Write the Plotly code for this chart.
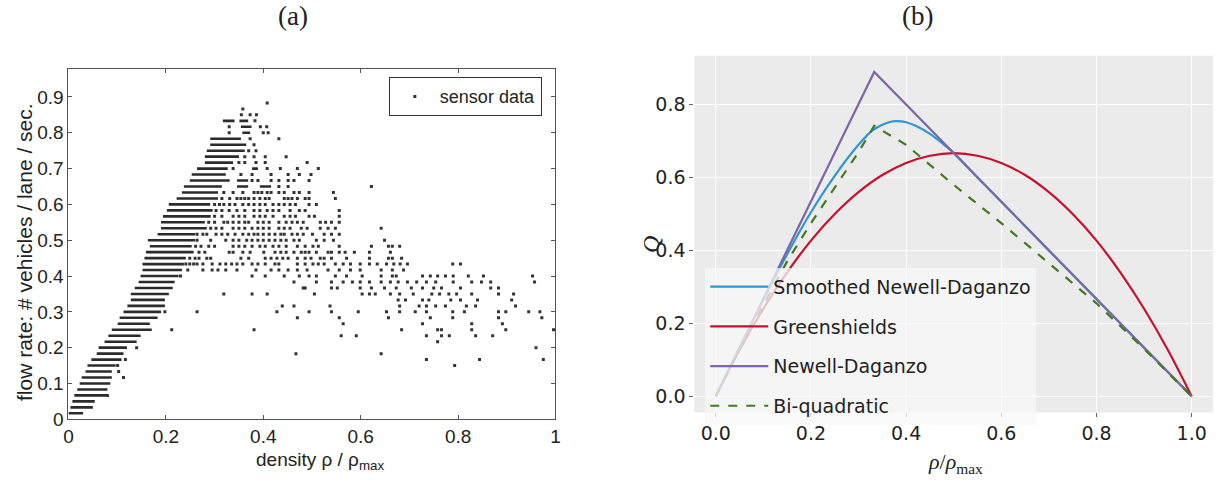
import plotly.graph_objects as go

# ---------------- Panel (a): sensor data ----------------
# flow rate is quantized: row k  ->  flow = k / 60 vehicles / lane / sec
FLOW_STEP = 1 / 60

# dense stretches of each row: (row k, density from, density to)
dense_rows = [
    (1, 0.000, 0.030), (2, 0.004, 0.050), (3, 0.008, 0.054), (4, 0.012, 0.078),
    (5, 0.018, 0.080), (6, 0.023, 0.086), (7, 0.027, 0.089), (8, 0.035, 0.089),
    (9, 0.039, 0.097), (10, 0.047, 0.109), (11, 0.058, 0.113), (12, 0.062, 0.120),
    (13, 0.074, 0.140), (14, 0.082, 0.148), (15, 0.089, 0.171), (16, 0.101, 0.167),
    (17, 0.105, 0.183), (18, 0.113, 0.190), (19, 0.121, 0.198), (20, 0.128, 0.198),
    (21, 0.128, 0.206), (22, 0.136, 0.214), (23, 0.144, 0.218), (24, 0.148, 0.226),
    (25, 0.152, 0.233), (26, 0.152, 0.237), (27, 0.156, 0.241), (28, 0.159, 0.257),
    (29, 0.167, 0.253), (30, 0.163, 0.260), (31, 0.183, 0.260), (32, 0.190, 0.284),
    (33, 0.190, 0.280), (34, 0.194, 0.292), (35, 0.202, 0.296), (36, 0.206, 0.291),
    (37, 0.222, 0.307), (38, 0.233, 0.307), (39, 0.237, 0.315), (39, 0.346, 0.369),
    (39, 0.393, 0.416), (40, 0.249, 0.331), (40, 0.346, 0.369), (41, 0.253, 0.323),
    (42, 0.264, 0.327), (42, 0.377, 0.389), (43, 0.280, 0.338), (44, 0.280, 0.350),
    (45, 0.284, 0.362), (46, 0.291, 0.365), (47, 0.291, 0.354), (48, 0.357, 0.373),
    (49, 0.354, 0.376), (50, 0.317, 0.341), (50, 0.351, 0.369),
]

# isolated readings of each row: row k -> densities
sparse_rows = {
    53: [0.408],
    52: [0.358],
    51: [0.355, 0.373, 0.386],
    50: [0.383],
    49: [0.330, 0.394, 0.407],
    48: [0.330, 0.400, 0.410],
    47: [0.373, 0.432],
    46: [0.381],
    45: [0.370, 0.385],
    44: [0.362, 0.381, 0.404, 0.447],
    43: [0.350, 0.362, 0.385, 0.404, 0.490],
    42: [0.338, 0.408, 0.435, 0.470, 0.513],
    41: [0.354, 0.377, 0.416, 0.451, 0.474, 0.498],
    40: [0.377, 0.389, 0.416, 0.432, 0.451, 0.463, 0.494],
    39: [0.432, 0.451, 0.622],
    38: [0.319, 0.338, 0.358, 0.381, 0.389, 0.397, 0.408, 0.416, 0.432, 0.443,
         0.463, 0.474, 0.494, 0.544],
    37: [0.315, 0.331, 0.346, 0.354, 0.362, 0.370, 0.381, 0.393, 0.404, 0.412,
         0.443, 0.451, 0.459, 0.470, 0.486, 0.494, 0.548],
    36: [0.300, 0.310, 0.319, 0.331, 0.342, 0.358, 0.370, 0.381, 0.393, 0.404,
         0.420, 0.432, 0.443, 0.455, 0.466, 0.494, 0.509],
    35: [0.303, 0.315, 0.330, 0.346, 0.362, 0.381, 0.393, 0.408, 0.420, 0.432,
         0.455, 0.474, 0.486, 0.556],
    34: [0.300, 0.315, 0.338, 0.350, 0.362, 0.381, 0.393, 0.404, 0.420, 0.443,
         0.455, 0.466, 0.494, 0.505, 0.556],
    33: [0.288, 0.300, 0.319, 0.327, 0.338, 0.350, 0.362, 0.370, 0.389, 0.400,
         0.412, 0.432, 0.447, 0.459, 0.470, 0.482, 0.517, 0.528, 0.540, 0.556],
    32: [0.292, 0.303, 0.315, 0.338, 0.350, 0.362, 0.377, 0.389, 0.400, 0.412,
         0.432, 0.443, 0.455, 0.478, 0.490, 0.517, 0.533, 0.548, 0.642],
    31: [0.264, 0.276, 0.284, 0.303, 0.315, 0.327, 0.342, 0.358, 0.370, 0.381,
         0.389, 0.400, 0.412, 0.424, 0.436, 0.443, 0.459, 0.470, 0.482, 0.501,
         0.525, 0.540, 0.556],
    30: [0.264, 0.292, 0.323, 0.338, 0.350, 0.366, 0.377, 0.389, 0.400, 0.412,
         0.424, 0.436, 0.447, 0.463, 0.474, 0.509, 0.525, 0.544, 0.649],
    29: [0.261, 0.272, 0.288, 0.300, 0.338, 0.350, 0.362, 0.377, 0.393, 0.404,
         0.420, 0.432, 0.447, 0.470, 0.486, 0.502, 0.513, 0.556, 0.622, 0.657,
         0.665, 0.680],
    28: [0.268, 0.280, 0.330, 0.338, 0.358, 0.373, 0.401, 0.424, 0.436, 0.447,
         0.463, 0.478, 0.486, 0.494, 0.509, 0.533, 0.540, 0.556, 0.568, 0.587,
         0.618, 0.661],
    27: [0.249, 0.260, 0.268, 0.284, 0.292, 0.354, 0.370, 0.404, 0.416, 0.428,
         0.440, 0.451, 0.470, 0.486, 0.498, 0.517, 0.525, 0.540, 0.571, 0.618,
         0.657, 0.665, 0.684],
    26: [0.241, 0.249, 0.257, 0.264, 0.276, 0.295, 0.311, 0.323, 0.335, 0.346,
         0.358, 0.377, 0.389, 0.404, 0.424, 0.432, 0.470, 0.486, 0.502, 0.513,
         0.525, 0.548, 0.564, 0.579, 0.599, 0.618, 0.634, 0.653, 0.668, 0.681,
         0.696, 0.789, 0.805],
    25: [0.245, 0.276, 0.295, 0.307, 0.323, 0.346, 0.385, 0.416, 0.432, 0.451,
         0.470, 0.490, 0.533, 0.556, 0.579, 0.599, 0.642, 0.665, 0.688],
    24: [0.230, 0.377, 0.404, 0.443, 0.474, 0.494, 0.509, 0.548, 0.571, 0.603,
         0.642, 0.665, 0.673, 0.727, 0.743, 0.758, 0.774, 0.790, 0.821, 0.852,
         0.953],
    23: [0.463, 0.509, 0.540, 0.564, 0.583, 0.599, 0.618, 0.642, 0.661, 0.677,
         0.696, 0.715, 0.735, 0.754, 0.790, 0.828, 0.848, 0.867, 0.957],
    22: [0.482, 0.486, 0.540, 0.552, 0.599, 0.622, 0.649, 0.673, 0.704, 0.727,
         0.750, 0.766, 0.805, 0.867, 0.883],
    21: [0.319, 0.377, 0.408, 0.505, 0.603, 0.618, 0.630, 0.661, 0.680, 0.708,
         0.746, 0.762, 0.781, 0.797, 0.828, 0.883, 0.914],
    20: [0.677, 0.692, 0.727, 0.740, 0.785, 0.805, 0.840, 0.910],
    19: [0.439, 0.463, 0.537, 0.680, 0.720, 0.735, 0.754, 0.774, 0.817, 0.836,
         0.918],
    18: [0.198, 0.264, 0.428, 0.494, 0.540, 0.595, 0.653, 0.680, 0.712, 0.735,
         0.789, 0.813, 0.883, 0.898, 0.945, 0.968],
    17: [0.470, 0.556, 0.657, 0.743, 0.789, 0.883, 0.972],
    16: [0.564, 0.727, 0.828, 0.891],
    15: [0.212, 0.381, 0.684, 0.758, 0.766, 0.828, 0.898, 0.996],
    14: [0.560, 0.591, 0.735, 0.766, 0.782, 0.836, 0.871],
    13: [0.758],
    12: [0.140, 0.960],
    11: [0.467, 0.642],
    10: [0.117, 0.735, 0.844, 0.975],
    9: [0.101, 0.793],
    8: [0.103],
    7: [0.113],
    4: [0.080],
}

a_xticks = [0, 0.2, 0.4, 0.6, 0.8, 1]
a_xticklabels = ["0", "0.2", "0.4", "0.6", "0.8", "1"]
a_yticks = [0, 0.1, 0.2, 0.3, 0.4, 0.5, 0.6, 0.7, 0.8, 0.9]
a_yticklabels = ["0", "0.1", "0.2", "0.3", "0.4", "0.5", "0.6", "0.7", "0.8", "0.9"]

# ---------------- Panel (b): flux functions ----------------
rho_green = [0, 0.05, 0.1, 0.15, 0.2, 0.25, 0.3, 0.35, 0.4, 0.45, 0.5,
             0.55, 0.6, 0.65, 0.7, 0.75, 0.8, 0.85, 0.9, 0.95, 1.0]
q_greenshields = [0, 0.127, 0.24, 0.34, 0.427, 0.5, 0.56, 0.607, 0.64, 0.66, 0.667,
                  0.66, 0.64, 0.607, 0.56, 0.5, 0.427, 0.34, 0.24, 0.127, 0]

rho_smooth = [0, 0.05, 0.1, 0.15, 0.2, 0.25, 0.3, 0.33, 0.35, 0.37, 0.38, 0.4,
              0.42, 0.45, 0.48, 0.5, 0.55, 0.6, 0.7, 0.8, 0.9, 1.0]
q_smooth = [0, 0.133, 0.265, 0.39, 0.505, 0.605, 0.69, 0.73, 0.745, 0.754, 0.755, 0.752,
            0.742, 0.72, 0.69, 0.668, 0.6, 0.534, 0.4, 0.267, 0.133, 0]

rho_nd = [0, 0.333, 1.0]
q_nd = [0, 0.89, 0]

rho_biq = [0, 0.05, 0.1, 0.15, 0.2, 0.25, 0.3, 0.333, 0.4, 0.5, 0.6, 0.7, 0.8, 0.9, 1.0]
q_biq = [0, 0.128, 0.25, 0.37, 0.475, 0.573, 0.67, 0.742, 0.69, 0.58, 0.475, 0.365,
         0.255, 0.13, 0]

b_xticks = [0, 0.2, 0.4, 0.6, 0.8, 1.0]
b_xticklabels = ["0.0", "0.2", "0.4", "0.6", "0.8", "1.0"]
b_yticks = [0, 0.2, 0.4, 0.6, 0.8]
b_yticklabels = ["0.0", "0.2", "0.4", "0.6", "0.8"]

# ---------------- build traces ----------------
seg_x, seg_y = [], []
for k, lo, hi in dense_rows:
    seg_x += [lo, hi, None]
    seg_y += [k * FLOW_STEP, k * FLOW_STEP, None]

pts_x, pts_y = [], []
for k, xs in sparse_rows.items():
    for x in xs:
        pts_x.append(x)
        pts_y.append(k * FLOW_STEP)

fig = go.Figure()

fig.add_trace(go.Scatter(x=seg_x, y=seg_y, mode="lines", xaxis="x", yaxis="y",
                         line=dict(color="#2b2b2b", width=2.6), showlegend=False,
                         hoverinfo="skip"))
fig.add_trace(go.Scatter(x=pts_x, y=pts_y, mode="markers", xaxis="x", yaxis="y",
                         name="sensor data", legend="legend",
                         marker=dict(symbol="square", size=3, color="#333333",
                                     line=dict(width=0))))

sans = "DejaVu Sans"
curves = [
    ("Smoothed Newell-Daganzo", rho_smooth, q_smooth, "#2E97D0", "solid", "spline"),
    ("Greenshields", rho_green, q_greenshields, "#C8102E", "solid", "spline"),
    ("Newell-Daganzo", rho_nd, q_nd, "#7A68A6", "solid", "linear"),
    ("Bi-quadratic", rho_biq, q_biq, "#467821", "dash", "linear"),
]
for i, (name, xs, ys, col, dash, shape) in enumerate(curves):
    fig.add_trace(go.Scatter(x=xs, y=ys, mode="lines", name=name, xaxis="x2", yaxis="y2",
                             legend="legend2", legendgroup=f"g{i}",
                             line=dict(color=col, width=2.2, dash=dash, shape=shape)))

helv = "Liberation Sans, Arial, sans-serif"
serif = "Liberation Serif, DejaVu Serif, serif"

fig.update_layout(
    width=1229, height=486,
    margin=dict(l=0, r=0, t=0, b=0),
    paper_bgcolor="white",
    plot_bgcolor="white",
    xaxis=dict(domain=[64 / 1229, 555 / 1229], anchor="y", range=[0, 1],
               tickvals=a_xticks, ticktext=a_xticklabels,
               ticks="inside", ticklen=4, tickcolor="#555", mirror="ticks",
               showline=True, linecolor="#555", linewidth=1, showgrid=False,
               zeroline=False, tickfont=dict(family=helv, size=19, color="#222")),
    yaxis=dict(domain=[1 - 429 / 486, 1 - 71 / 486], anchor="x", range=[0, 0.977],
               tickvals=a_yticks, ticktext=a_yticklabels,
               ticks="inside", ticklen=4, tickcolor="#555", mirror="ticks",
               showline=True, linecolor="#555", linewidth=1, showgrid=False,
               zeroline=False, tickfont=dict(family=helv, size=19, color="#222")),
    xaxis2=dict(domain=[695 / 1229, 1218 / 1229], anchor="y2", range=[-0.045, 1.045],
                tickvals=b_xticks, ticktext=b_xticklabels,
                ticks="outside", ticklen=4, tickcolor="#666",
                showline=False, showgrid=True, gridcolor="white", gridwidth=1,
                zeroline=False, tickfont=dict(family=sans, size=19, color="#222")),
    yaxis2=dict(domain=[1 - 422 / 486, 1 - 57 / 486], anchor="x2", range=[-0.0445, 0.9345],
                tickvals=b_yticks, ticktext=b_yticklabels,
                ticks="outside", ticklen=4, tickcolor="#666",
                showline=False, showgrid=True, gridcolor="white", gridwidth=1,
                zeroline=False, tickfont=dict(family=sans, size=19, color="#222")),
    legend=dict(x=387 / 1229, y=1 - 79 / 486, xanchor="left", yanchor="top",
                bgcolor="white", bordercolor="#333", borderwidth=1,
                font=dict(family=helv, size=18, color="#222"),
                itemwidth=40),
    legend2=dict(x=706 / 1229, y=1 - 274 / 486, xanchor="left", yanchor="top",
                 bgcolor="rgba(248,248,248,0.75)", borderwidth=0,
                 font=dict(family=sans, size=19, color="#222"),
                 tracegroupgap=12, itemwidth=58),
    shapes=[dict(type="rect", xref="x2 domain", yref="y2 domain", x0=0, x1=1, y0=0, y1=1,
                 fillcolor="#EBEBEB", line=dict(width=0), layer="below")],
    annotations=[
        dict(text="(a)", x=290 / 1229, y=1 - 16 / 486, xref="paper", yref="paper",
             xanchor="center", yanchor="middle",
             showarrow=False, font=dict(family=serif, size=27, color="#222")),
        dict(text="(b)", x=920 / 1229, y=1 - 16 / 486, xref="paper", yref="paper",
             xanchor="center", yanchor="middle",
             showarrow=False, font=dict(family=serif, size=27, color="#222")),
        dict(text="flow rate: # vehicles / lane / sec.", x=19 / 1229, y=1 - 258 / 486,
             xref="paper", yref="paper", showarrow=False, textangle=-90,
             xanchor="center", yanchor="middle",
             font=dict(family=helv, size=21, color="#222")),
        dict(text="density ρ / ρ<sub>max</sub>", x=318 / 1229, y=1 - 472 / 486,
             xref="paper", yref="paper", showarrow=False,
             xanchor="center", yanchor="middle",
             font=dict(family=helv, size=19, color="#222")),
        dict(text="<i>Q</i>", x=652 / 1229, y=1 - 250 / 486, xref="paper", yref="paper",
             xanchor="center", yanchor="middle",
             showarrow=False, textangle=-90, font=dict(family=serif, size=24, color="#222")),
        dict(text="<i>ρ</i>/<i>ρ</i><sub>max</sub>", x=958 / 1229, y=1 - 474 / 486,
             xref="paper", yref="paper", showarrow=False,
             xanchor="center", yanchor="middle",
             font=dict(family=serif, size=22, color="#222")),
    ],
)

fig.write_html("out.html")
